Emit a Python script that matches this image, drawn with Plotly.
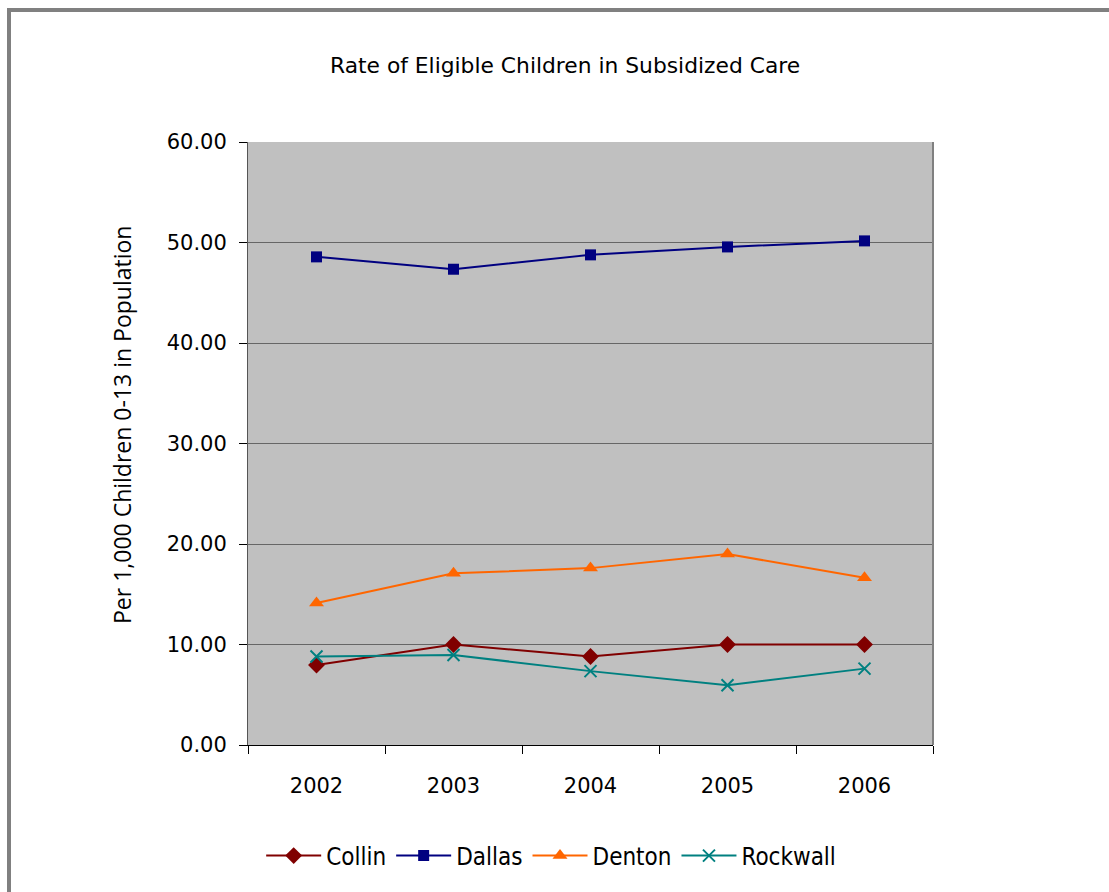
import plotly.graph_objects as go

# Chart data
years = ["2002", "2003", "2004", "2005", "2006"]
collin = [7.96, 10.0, 8.8, 10.0, 10.0]
dallas = [48.57, 47.34, 48.77, 49.56, 50.16]
denton = [14.12, 17.08, 17.6, 19.0, 16.64]
rockwall = [8.8, 8.96, 7.35, 5.95, 7.6]

y_ticks = [0, 10, 20, 30, 40, 50, 60]
y_tick_text = ["0.00", "10.00", "20.00", "30.00", "40.00", "50.00", "60.00"]

W, H = 1109, 892
FONT = "Open Sans"
TICK_FONT = "DejaVu Sans"
LEGEND_FONT = "DejaVu Sans Condensed"

series = [
    ("Collin", collin, "#800000", "diamond", 13),
    ("Dallas", dallas, "#000080", "square", 11),
    ("Denton", denton, "#FF6600", "triangle-up", 13),
    ("Rockwall", rockwall, "#008080", "x-thin-open", 12),
]

fig = go.Figure()
for name, vals, color, sym, size in series:
    fig.add_trace(go.Scatter(
        x=years, y=vals, name=name, mode="lines+markers",
        line=dict(color=color, width=2),
        marker=dict(symbol=sym, size=size, color=color,
                    line=dict(color=color, width=2 if "x-thin" in sym else 0)),
    ))

# plot area in pixel terms
px_l, px_r, px_t, px_b = 248, 933, 142, 745

fig.update_layout(
    width=W, height=H,
    margin=dict(l=0, r=0, t=0, b=0, autoexpand=False),
    paper_bgcolor="white",
    plot_bgcolor="#C0C0C0",
    font=dict(family=FONT, color="black", size=19),
    showlegend=True,
    legend=dict(orientation="h", x=0.497, xanchor="center",
                y=(H - 856) / H, yanchor="middle",
                font=dict(size=24, family=LEGEND_FONT), itemwidth=55,
                tracegroupgap=0),
    xaxis=dict(
        domain=[px_l / W, px_r / W],
        type="category", range=[-0.5, 4.5],
        showgrid=False, zeroline=False,
        showline=True, linecolor="#000000", linewidth=1,
        ticks="outside", ticklen=8, tickcolor="black", tickson="boundaries",
        ticklabelstandoff=22,
        tickfont=dict(size=21, family=TICK_FONT),
        mirror=False,
    ),
    yaxis=dict(
        domain=[(H - px_b) / H, (H - px_t) / H],
        range=[0, 60],
        tickvals=y_ticks, ticktext=y_tick_text,
        showgrid=True, gridcolor="#666666", gridwidth=1,
        zeroline=False,
        showline=True, linecolor="#555555", linewidth=1,
        ticks="outside", ticklen=8, tickcolor="black",
        ticklabelstandoff=8,
        tickfont=dict(size=21, family=TICK_FONT),
    ),
    annotations=[
        dict(text="Rate of Eligible Children in Subsidized Care",
             x=565 / W, y=1 - 65 / H, xref="paper", yref="paper",
             showarrow=False, xanchor="center", yanchor="middle",
             font=dict(size=21.8, family=TICK_FONT)),
        dict(text="Per 1,000 Children 0-13 in Population",
             x=122 / W, y=1 - 425 / H, xref="paper", yref="paper",
             showarrow=False, textangle=-90,
             xanchor="center", yanchor="middle",
             font=dict(size=23, family=FONT)),
    ],
    shapes=[
        # outer frame: left and top edges
        dict(type="line", xref="paper", yref="paper",
             x0=9 / W, x1=9 / W, y0=0, y1=1 - 8 / H,
             line=dict(color="#808080", width=4)),
        dict(type="line", xref="paper", yref="paper",
             x0=7 / W, x1=1, y0=1 - 10 / H, y1=1 - 10 / H,
             line=dict(color="#808080", width=4)),
        # right edge of plot area
        dict(type="line", xref="paper", yref="paper",
             x0=px_r / W, x1=px_r / W, y0=(H - px_b) / H, y1=(H - px_t) / H,
             line=dict(color="#808080", width=2)),
    ],
)

fig.write_html("out.html")
